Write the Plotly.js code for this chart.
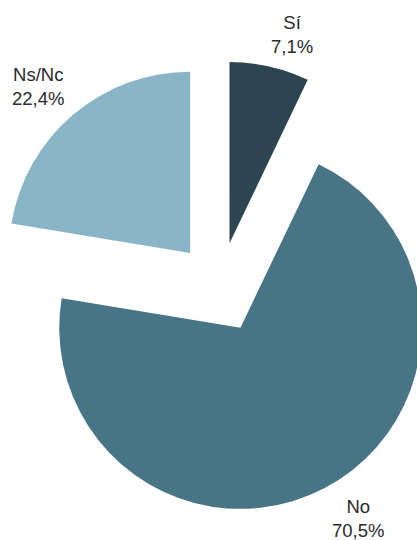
<!DOCTYPE html>
<html>
<head>
<meta charset="utf-8">
<script src="https://cdn.plot.ly/plotly-3.0.1.min.js"></script>
<style>
html, body { margin:0; padding:0; width:417px; height:540px; overflow:hidden; background:#fff; }
#chart { position:absolute; left:-10px; top:0; width:470px; height:540px; }
</style>
</head>
<body>
<div id="chart"></div>
<script>
var categories = ["Sí", "No", "Ns/Nc"];
var values = [7.1, 70.5, 22.4];
var valueLabels = ["7,1%", "70,5%", "22,4%"];
var colors = ["#2c4550", "#477586", "#89b5c6"];

var trace = {
  type: "pie",
  labels: categories,
  values: values,
  textinfo: "none",
  sort: false,
  direction: "clockwise",
  rotation: 0,
  pull: [0.25, 0.25, 0.25],
  marker: { colors: colors, line: { width: 0 } },
  hoverinfo: "none",
  showlegend: false
};

// label anchor points (paper coords) for each slice
var labelPos = [[0.659, 1.0574], [0.8057, -0.0100], [0.0993, 0.9448]];

var annotations = categories.map(function (c, i) {
  return {
    xref: "paper", yref: "paper",
    x: labelPos[i][0], y: labelPos[i][1],
    xanchor: "center", yanchor: "middle",
    text: c + "<br>" + valueLabels[i],
    showarrow: false,
    align: "center",
    font: { family: "Liberation Sans, Arial, sans-serif", size: 18.5, color: "#2a2a2a" }
  };
});

var layout = {
  width: 470,
  height: 540,
  margin: { l: 3, r: 14, t: 61, b: 26 },
  paper_bgcolor: "#ffffff",
  showlegend: false,
  annotations: annotations
};

Plotly.newPlot("chart", [trace], layout, { displayModeBar: false, staticPlot: true });
</script>
</body>
</html>
